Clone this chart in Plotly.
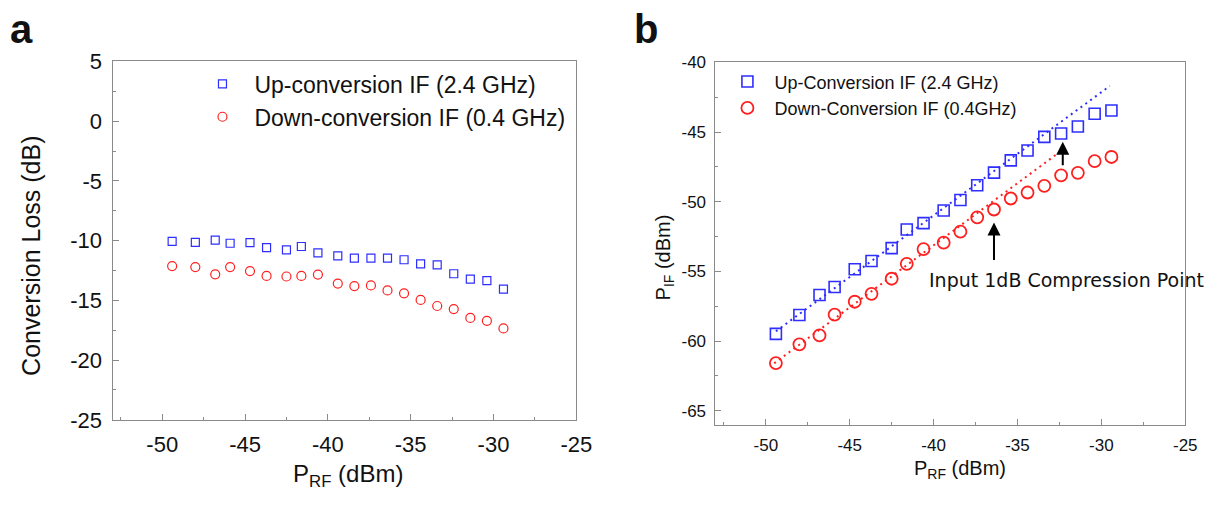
import plotly.graph_objects as go

# RF input power (dBm), shared by both panels
p_rf = [-49.4, -48.0, -46.8, -45.9, -44.7, -43.7, -42.5, -41.6, -40.6, -39.4,
        -38.4, -37.4, -36.4, -35.4, -34.4, -33.4, -32.4, -31.4, -30.4, -29.4]

# panel a: conversion loss (dB)
loss_up = [-10.06, -10.14, -9.96, -10.22, -10.17, -10.59, -10.78, -10.49, -11.02, -11.28,
           -11.47, -11.47, -11.47, -11.6, -11.94, -12.02, -12.77, -13.22, -13.35, -14.06]
loss_down = [-12.13, -12.21, -12.82, -12.21, -12.55, -12.95, -13.0, -12.95, -12.84, -13.59,
             -13.8, -13.75, -14.17, -14.41, -14.96, -15.47, -15.73, -16.47, -16.71, -17.35]

# panel b: IF output power (dBm)
p_if_up = [-59.49, -58.13, -56.7, -56.12, -54.85, -54.26, -53.33, -51.99, -51.54, -50.63,
           -49.88, -48.82, -47.91, -47.03, -46.32, -45.35, -45.1, -44.6, -43.69, -43.45]
p_if_down = [-61.58, -60.24, -59.6, -58.11, -57.18, -56.61, -55.53, -54.46, -53.4, -52.94,
             -52.15, -51.12, -50.56, -49.77, -49.34, -48.86, -48.11, -47.93, -47.09, -46.79]

# linear fits (dotted lines in panel b)
fit_up_x = [-49.4, -29.5]
fit_up_y = [-59.3, -41.7]
fit_down_x = [-49.5, -32.0]
fit_down_y = [-61.6, -46.0]

# 1dB compression arrows: x, head y, tail y
arrow_x = [-36.4, -32.3]
arrow_head = [-51.5, -45.7]
arrow_tail = [-54.3, -47.5]

# tick labels (plain hyphen minus, like the original)
x_ticks = [-50, -45, -40, -35, -30, -25]
x_labels = ["-50", "-45", "-40", "-35", "-30", "-25"]
ya_ticks = [5, 0, -5, -10, -15, -20, -25]
ya_labels = ["5", "0", "-5", "-10", "-15", "-20", "-25"]
yb_ticks = [-40, -45, -50, -55, -60, -65]
yb_labels = ["-40", "-45", "-50", "-55", "-60", "-65"]

BLUE = "#2E2EFF"
RED = "#FF1F1F"
FONT = "Liberation Sans, Arial, sans-serif"
FRAME = "#8a8a8a"

fig = go.Figure()

# panel a
fig.add_trace(go.Scatter(
    x=p_rf, y=loss_up, mode="markers", name="Up-conversion IF (2.4 GHz)",
    marker=dict(symbol="square-open", size=8, color=BLUE, line=dict(width=1.2)),
    xaxis="x", yaxis="y", legend="legend",
))
fig.add_trace(go.Scatter(
    x=p_rf, y=loss_down, mode="markers", name="Down-conversion IF (0.4 GHz)",
    marker=dict(symbol="circle-open", size=9, color=RED, line=dict(width=1.2)),
    xaxis="x", yaxis="y", legend="legend",
))

# panel b
fig.add_trace(go.Scatter(
    x=fit_up_x, y=fit_up_y, mode="lines", showlegend=False,
    line=dict(color=BLUE, width=2, dash="2px,4px"),
    xaxis="x2", yaxis="y2",
))
fig.add_trace(go.Scatter(
    x=fit_down_x, y=fit_down_y, mode="lines", showlegend=False,
    line=dict(color=RED, width=2, dash="2px,4px"),
    xaxis="x2", yaxis="y2",
))
fig.add_trace(go.Scatter(
    x=p_rf, y=p_if_up, mode="markers", name="Up-Conversion IF (2.4 GHz)",
    marker=dict(symbol="square-open", size=11, color=BLUE, line=dict(width=1.6)),
    xaxis="x2", yaxis="y2", legend="legend2",
))
fig.add_trace(go.Scatter(
    x=p_rf, y=p_if_down, mode="markers", name="Down-Conversion IF (0.4GHz)",
    marker=dict(symbol="circle-open", size=12, color=RED, line=dict(width=1.8)),
    xaxis="x2", yaxis="y2", legend="legend2",
))


def axis_style(domain, rng, anchor, tick_size, vals, labels):
    return dict(
        domain=domain, range=rng, anchor=anchor,
        showline=True, mirror=True, linecolor=FRAME, linewidth=1,
        showgrid=False, zeroline=False,
        ticks="inside", ticklen=6, tickwidth=1, tickcolor=FRAME,
        tickmode="array", tickvals=vals, ticktext=labels,
        minor=dict(dtick=2.5, tick0=0, ticks="inside", ticklen=3, tickwidth=1,
                   tickcolor=FRAME),
        tickfont=dict(family=FONT, size=tick_size, color="#111"),
        ticklabelstandoff=5,
    )


W, H = 1220, 507
fig.update_layout(
    width=W, height=H,
    margin=dict(l=0, r=0, t=0, b=0),
    paper_bgcolor="white", plot_bgcolor="white",
    xaxis=axis_style([114 / W, 584 / W], [-53, -25], "y", 22, x_ticks, x_labels),
    yaxis=axis_style([1 - 429 / H, 1 - 52 / H], [-25, 5], "x", 22, ya_ticks, ya_labels),
    xaxis2=axis_style([725 / W, 1201 / W], [-53, -25], "y2", 17, x_ticks, x_labels),
    yaxis2=axis_style([1 - 434 / H, 1 - 53 / H], [-66, -40], "x2", 17, yb_ticks, yb_labels),
    legend=dict(
        x=193 / W, y=1 - 53 / H, xanchor="left", yanchor="top",
        font=dict(family=FONT, size=23, color="#111"),
        bgcolor="rgba(0,0,0,0)", itemwidth=54, tracegroupgap=0,
    ),
    legend2=dict(
        x=730 / W, y=1 - 54 / H, xanchor="left", yanchor="top",
        font=dict(family=FONT, size=18, color="#111"),
        bgcolor="rgba(0,0,0,0)", itemwidth=44, tracegroupgap=0,
    ),
)


def label(text, px, py, size, angle=0, family=FONT):
    return dict(text=text, x=px / W, y=1 - py / H, xref="paper", yref="paper",
                xanchor="center", yanchor="middle", textangle=angle, showarrow=False,
                font=dict(family=family, size=size, color="#111"))


annotations = [
    label("<b>a</b>", 22, 18, 40),
    label("<b>b</b>", 655, 18, 40),
    label("Conversion Loss (dB)", 32, 257, 25, angle=-90),
    label("P<sub>RF</sub> (dBm)", 353, 488, 24),
    label("P<sub>IF</sub> (dBm)", 673, 258, 20, angle=-90),
    label("P<sub>RF</sub> (dBm)", 973, 481, 20),
    dict(text="Input 1dB Compression Point", x=-40.4, y=-55.63, xref="x2", yref="y2",
         xanchor="left", yanchor="middle", showarrow=False,
         font=dict(family="DejaVu Sans", size=19, color="#111")),
]
for ax_, head, tail in zip(arrow_x, arrow_head, arrow_tail):
    annotations.append(dict(
        x=ax_, y=head, ax=ax_, ay=tail, xref="x2", yref="y2", axref="x2", ayref="y2",
        text="", showarrow=True, arrowhead=2, arrowsize=1.3, arrowwidth=2, arrowcolor="black",
    ))
fig.update_layout(annotations=annotations)

fig.write_html("out.html", config={"displayModeBar": False},
               post_script="document.body.style.margin='0';")
